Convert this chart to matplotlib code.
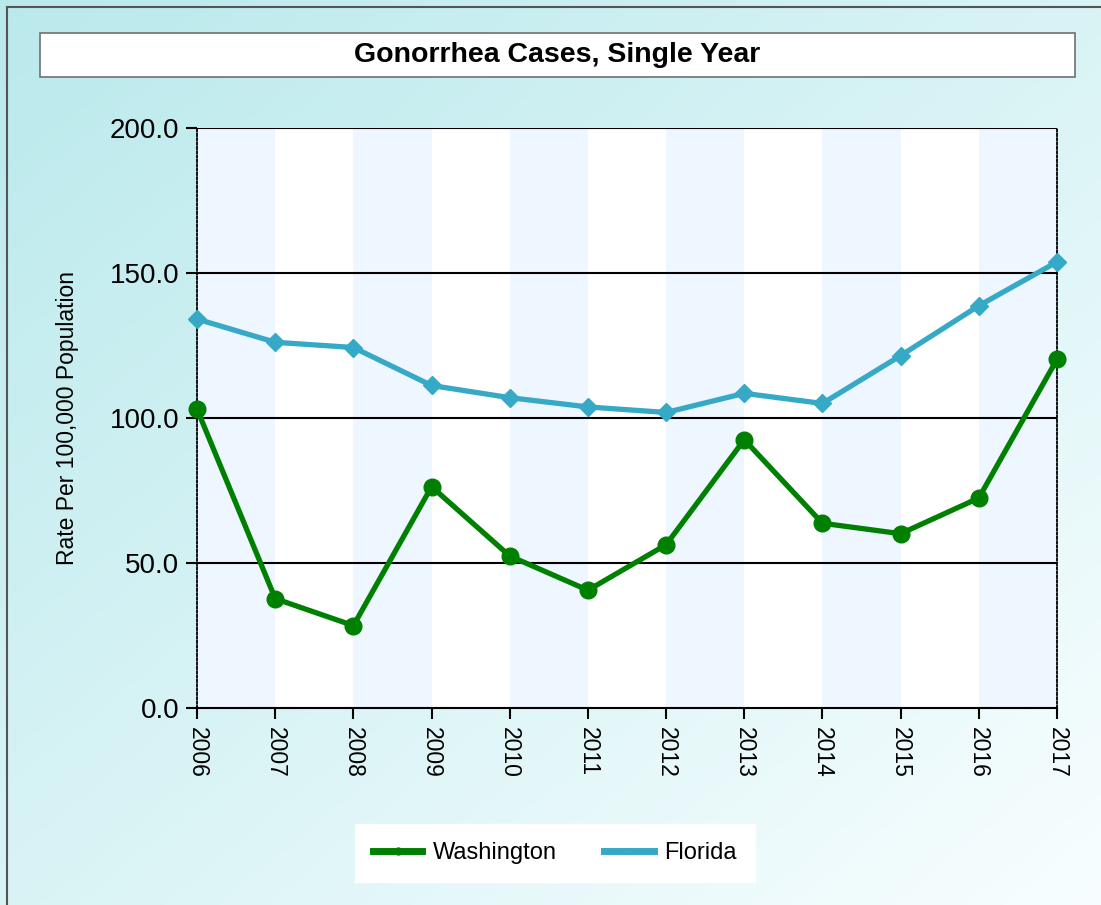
import numpy as np
import matplotlib
matplotlib.use("Agg")
import matplotlib.pyplot as plt
from matplotlib.patches import Rectangle
from matplotlib.lines import Line2D

plt.rcParams['font.family'] = ['Liberation Sans', 'DejaVu Sans']

# data
years = [2006, 2007, 2008, 2009, 2010, 2011, 2012, 2013, 2014, 2015, 2016, 2017]
washington = [103.0, 37.7, 28.4, 76.3, 52.4, 40.6, 56.3, 92.5, 63.7, 60.1, 72.4, 120.2]
florida = [134.1, 126.1, 124.3, 111.2, 107.0, 103.8, 101.9, 108.5, 105.0, 121.5, 138.7, 153.8]
yticks = [0, 50, 100, 150, 200]

fig = plt.figure(figsize=(11.01, 9.05), dpi=100)

# diagonal gradient background
bg = fig.add_axes([0, 0, 1, 1], zorder=-10)
h, w = 200, 240
yy, xx = np.mgrid[0:h, 0:w]
t = (xx / w + yy / h) / 2.0
c0 = np.array([186, 233, 236]) / 255.0
c1 = np.array([248, 254, 255]) / 255.0
img = c0[None, None, :] * (1 - t[..., None]) + c1[None, None, :] * t[..., None]
bg.imshow(img, aspect='auto', extent=[0, 1, 0, 1], origin='upper')
bg.set_xlim(0, 1)
bg.set_ylim(0, 1)
bg.axis('off')
# border on left and top
bg.add_line(Line2D([0.0064, 0.0064], [0, 0.9925], color='#555555', lw=1.5))
bg.add_line(Line2D([0.0064, 1], [0.9925, 0.9925], color='#555555', lw=1.5))

# title box
fig.patches.append(Rectangle((0.0363, 0.9149), 0.9401, 0.0486, transform=fig.transFigure,
                             facecolor='white', edgecolor='#707070', lw=1.2, zorder=1))
fig.text(0.506, 0.939, "Gonorrhea Cases, Single Year", ha='center', va='center',
         fontsize=20.5, fontweight='bold', color='black')

ax = fig.add_axes([0.179, 0.2177, 0.781, 0.6409])
ax.set_facecolor('white')

# interlaced strips
for i in range(0, len(years) - 1, 2):
    ax.axvspan(years[i], years[i + 1], color='#EEF6FF', lw=0, zorder=0)

for yv in yticks[1:]:
    ax.axhline(yv, color='black', lw=1.5, zorder=1)

ax.plot(years, washington, color='#008000', lw=3.8, marker='o', markersize=12,
        label='Washington', zorder=3, clip_on=False)
ax.plot(years, florida, color='#36A9C6', lw=3.8, marker='D', markersize=9,
        label='Florida', zorder=3, clip_on=False)

ax.set_xlim(2006, 2017)
ax.set_ylim(0, 200)
ax.set_xticks(years)
ax.set_xticklabels([str(y) for y in years], rotation=-90, fontsize=16.5)
ax.set_yticks(yticks)
ax.set_yticklabels(["%.1f" % v for v in yticks], fontsize=20)
ax.tick_params(axis='both', direction='out', length=8, width=1.5, color='black')
ax.tick_params(axis='x', pad=6)
ax.tick_params(axis='y', pad=5)

ax.spines['top'].set_visible(False)
ax.spines['bottom'].set_linewidth(1.5)
ax.spines['bottom'].set_zorder(4)
for s in ['left', 'right']:
    ax.spines[s].set_linestyle((0, (1.2, 1.2)))
    ax.spines[s].set_linewidth(1.3)
    ax.spines[s].set_zorder(2)

ax.set_ylabel("Rate Per 100,000 Population", fontsize=16.5, labelpad=22)

handles = [Line2D([], [], color='#008000', lw=5, marker='o', markersize=5),
           Line2D([], [], color='#36A9C6', lw=5, marker='D', markersize=3)]
leg = fig.legend(handles, ['Washington', 'Florida'], loc='center', ncol=2,
                 bbox_to_anchor=(0.504, 0.0575), fontsize=17, frameon=True,
                 fancybox=False, edgecolor='white', facecolor='white', framealpha=1,
                 handlelength=2.1, columnspacing=2.0, handletextpad=0.45,
                 borderpad=0.75, borderaxespad=0)

fig.savefig("out.png", dpi=100)
